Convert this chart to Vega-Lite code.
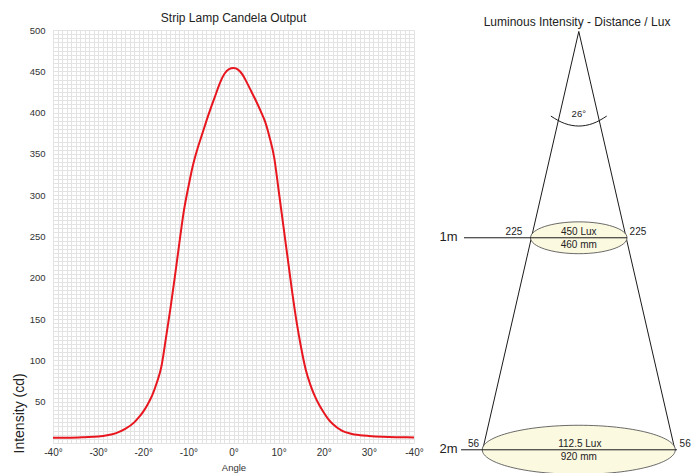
{
  "$schema": "https://vega.github.io/schema/vega-lite/v6.json",
  "background": "white",
  "padding": {"left": 12, "top": 11, "right": 0, "bottom": 0},
  "bounds": "flush",
  "spacing": 20,
  "config": {
    "view": {"stroke": null},
    "font": "Liberation Sans",
    "title": {"fontSize": 12, "fontWeight": "normal", "font": "Liberation Sans", "color": "#222222", "frame": "group"}
  },
  "datasets": {
    "curve": [
      {"angle": -40, "cd": 6.5}, {"angle": -36, "cd": 6.5}, {"angle": -33, "cd": 7}, {"angle": -30, "cd": 7.8},
      {"angle": -28, "cd": 9.3}, {"angle": -26, "cd": 12}, {"angle": -24, "cd": 17}, {"angle": -22, "cd": 25},
      {"angle": -21, "cd": 31}, {"angle": -20, "cd": 38}, {"angle": -19, "cd": 47}, {"angle": -18, "cd": 58},
      {"angle": -17, "cd": 73}, {"angle": -16, "cd": 92}, {"angle": -15, "cd": 126}, {"angle": -14, "cd": 162},
      {"angle": -13, "cd": 201}, {"angle": -12, "cd": 242}, {"angle": -11, "cd": 281}, {"angle": -10, "cd": 310},
      {"angle": -9, "cd": 336}, {"angle": -8, "cd": 356}, {"angle": -7, "cd": 373}, {"angle": -6, "cd": 390},
      {"angle": -5, "cd": 406}, {"angle": -4, "cd": 421}, {"angle": -3, "cd": 436}, {"angle": -2, "cd": 447},
      {"angle": -1, "cd": 452.5}, {"angle": 0, "cd": 454}, {"angle": 1, "cd": 452}, {"angle": 2, "cd": 446},
      {"angle": 3, "cd": 436}, {"angle": 4, "cd": 425}, {"angle": 5, "cd": 414}, {"angle": 6, "cd": 402},
      {"angle": 7, "cd": 389}, {"angle": 8, "cd": 370}, {"angle": 9, "cd": 346}, {"angle": 10, "cd": 306},
      {"angle": 11, "cd": 265}, {"angle": 12, "cd": 224}, {"angle": 13, "cd": 183}, {"angle": 14, "cd": 146},
      {"angle": 15, "cd": 115}, {"angle": 16, "cd": 89}, {"angle": 17, "cd": 71}, {"angle": 18, "cd": 57},
      {"angle": 19, "cd": 46}, {"angle": 20, "cd": 37}, {"angle": 21, "cd": 29}, {"angle": 22, "cd": 23},
      {"angle": 24, "cd": 15}, {"angle": 26, "cd": 11.3}, {"angle": 28, "cd": 9.5}, {"angle": 30, "cd": 8.5},
      {"angle": 33, "cd": 7.5}, {"angle": 36, "cd": 7}, {"angle": 40, "cd": 6.8}
    ],
    "cone": [
      {"x": -458, "y": 2, "o": 0},
      {"x": 0, "y": 0.027, "o": 1},
      {"x": 458, "y": 2, "o": 2}
    ],
    "ellipses": [
      {"x": 0, "y": 1, "lvl": "1m"},
      {"x": 0, "y": 2, "lvl": "2m"}
    ],
    "levels": [
      {"x1": -547, "x2": 230, "y": 1, "lvl": "1m"},
      {"x1": -561, "x2": 468, "y": 2, "lvl": "2m"}
    ],
    "arc": [
      {"x": -133, "y": 0.426}, {"x": -100, "y": 0.446}, {"x": -67, "y": 0.461}, {"x": -33, "y": 0.470},
      {"x": 0, "y": 0.473}, {"x": 33, "y": 0.470}, {"x": 67, "y": 0.461}, {"x": 100, "y": 0.446}, {"x": 133, "y": 0.426}
    ],
    "distLabels": [
      {"t": "1m", "x": -621, "y": 1},
      {"t": "2m", "x": -621, "y": 2}
    ],
    "aboveLabels": [
      {"t": "225", "x": -309, "y": 1},
      {"t": "225", "x": 282, "y": 1},
      {"t": "450 Lux", "x": 0, "y": 1},
      {"t": "56", "x": -502, "y": 2},
      {"t": "56", "x": 507, "y": 2},
      {"t": "112.5 Lux", "x": 5, "y": 2}
    ],
    "belowLabels": [
      {"t": "460 mm", "x": 0, "y": 1},
      {"t": "920 mm", "x": 0, "y": 2}
    ],
    "angleLabel": [
      {"t": "26°", "x": 0, "y": 0.429}
    ]
  },
  "hconcat": [
    {
      "width": 361,
      "height": 413,
      "title": {"text": "Strip Lamp Candela Output", "offset": 0.5},
      "data": {"name": "curve"},
      "mark": {"type": "line", "color": "#e8161e", "strokeWidth": 2, "interpolate": "monotone"},
      "encoding": {
        "x": {
          "field": "angle", "type": "quantitative",
          "scale": {"domain": [-40, 40], "nice": false, "zero": false},
          "axis": {
            "tickCount": 80, "grid": true, "gridColor": "#e3e3e3", "gridWidth": 1,
            "ticks": false, "domain": false, "labelFlush": false, "labelOverlap": false, "labelBound": false,
            "labelExpr": "datum.value % 10 === 0 ? (datum.value === 40 ? '-40°' : datum.value + '°') : ''",
            "labelFontSize": 10, "labelColor": "#333333", "labelPadding": 4,
            "title": "Angle", "titleFontSize": 9.5, "titleFontWeight": "normal", "titleColor": "#333333", "titlePadding": 5
          }
        },
        "y": {
          "field": "cd", "type": "quantitative",
          "scale": {"domain": [0, 500], "nice": false},
          "axis": {
            "tickCount": 100, "grid": true, "gridColor": "#e3e3e3", "gridWidth": 1,
            "ticks": false, "domain": false, "labelFlush": false, "labelOverlap": false, "labelBound": false,
            "labelExpr": "datum.value % 50 === 0 && datum.value > 0 ? datum.label : ''",
            "labelFontSize": 9.5, "labelColor": "#333333", "labelPadding": 8,
            "title": "Intensity (cd)", "titleFontSize": 14, "titleFontWeight": "normal", "titleColor": "#222222",
            "titleAngle": 270, "titleAlign": "left", "titleBaseline": "middle", "titleX": -34, "titleY": 423
          }
        }
      }
    },
    {
      "width": 256,
      "height": 413,
      "title": {"text": "Luminous Intensity - Distance / Lux", "dx": 15, "offset": 0.5},
      "layer": [
        {
          "data": {"name": "cone"},
          "mark": {"type": "line", "color": "#1a1a1a", "strokeWidth": 1},
          "encoding": {
            "x": {"field": "x", "type": "quantitative", "scale": {"domain": [-690, 530], "nice": false, "zero": false}, "axis": null},
            "y": {"field": "y", "type": "quantitative", "scale": {"domain": [0.02, 1.968], "nice": false, "zero": false, "reverse": true}, "axis": null},
            "order": {"field": "o"}
          }
        },
        {
          "data": {"name": "ellipses"},
          "transform": [{"filter": "datum.lvl === '1m'"}],
          "mark": {
            "type": "point", "filled": true, "fill": "#fcf9e1", "fillOpacity": 1, "stroke": "#444444", "strokeWidth": 0.8, "opacity": 1,
            "size": 9312,
            "shape": "M-1,0C-1,-0.1823,-0.5523,-0.33,0,-0.33C0.5523,-0.33,1,-0.1823,1,0C1,0.1823,0.5523,0.33,0,0.33C-0.5523,0.33,-1,0.1823,-1,0Z"
          },
          "encoding": {
            "x": {"field": "x", "type": "quantitative", "axis": null},
            "y": {"field": "y", "type": "quantitative", "axis": null}
          }
        },
        {
          "data": {"name": "ellipses"},
          "transform": [{"filter": "datum.lvl === '2m'"}],
          "mark": {
            "type": "point", "filled": true, "fill": "#fcf9e1", "fillOpacity": 1, "stroke": "#444444", "strokeWidth": 0.8, "opacity": 1,
            "size": 37250,
            "shape": "M-1,0C-1,-0.1403,-0.5523,-0.254,0,-0.254C0.5523,-0.254,1,-0.1403,1,0C1,0.1403,0.5523,0.254,0,0.254C-0.5523,0.254,-1,0.1403,-1,0Z"
          },
          "encoding": {
            "x": {"field": "x", "type": "quantitative", "axis": null},
            "y": {"field": "y", "type": "quantitative", "axis": null}
          }
        },
        {
          "data": {"name": "levels"},
          "mark": {"type": "rule", "color": "#1a1a1a", "strokeWidth": 1},
          "encoding": {
            "x": {"field": "x1", "type": "quantitative", "axis": null},
            "x2": {"field": "x2"},
            "y": {"field": "y", "type": "quantitative", "axis": null}
          }
        },
        {
          "data": {"name": "arc"},
          "mark": {"type": "line", "color": "#1a1a1a", "strokeWidth": 1, "interpolate": "natural"},
          "encoding": {
            "x": {"field": "x", "type": "quantitative", "axis": null},
            "y": {"field": "y", "type": "quantitative", "axis": null}
          }
        },
        {
          "data": {"name": "distLabels"},
          "mark": {"type": "text", "fontSize": 13, "color": "#222222", "align": "center", "baseline": "middle", "dy": -1},
          "encoding": {
            "x": {"field": "x", "type": "quantitative", "axis": null},
            "y": {"field": "y", "type": "quantitative", "axis": null},
            "text": {"field": "t"}
          }
        },
        {
          "data": {"name": "aboveLabels"},
          "mark": {"type": "text", "fontSize": 10, "color": "#222222", "align": "center", "baseline": "alphabetic", "dy": -2.5},
          "encoding": {
            "x": {"field": "x", "type": "quantitative", "axis": null},
            "y": {"field": "y", "type": "quantitative", "axis": null},
            "text": {"field": "t"}
          }
        },
        {
          "data": {"name": "belowLabels"},
          "mark": {"type": "text", "fontSize": 10, "color": "#222222", "align": "center", "baseline": "top", "dy": 2.5},
          "encoding": {
            "x": {"field": "x", "type": "quantitative", "axis": null},
            "y": {"field": "y", "type": "quantitative", "axis": null},
            "text": {"field": "t"}
          }
        },
        {
          "data": {"name": "angleLabel"},
          "mark": {"type": "text", "fontSize": 9.5, "color": "#222222", "align": "center", "baseline": "alphabetic"},
          "encoding": {
            "x": {"field": "x", "type": "quantitative", "axis": null},
            "y": {"field": "y", "type": "quantitative", "axis": null},
            "text": {"field": "t"}
          }
        }
      ]
    }
  ]
}
